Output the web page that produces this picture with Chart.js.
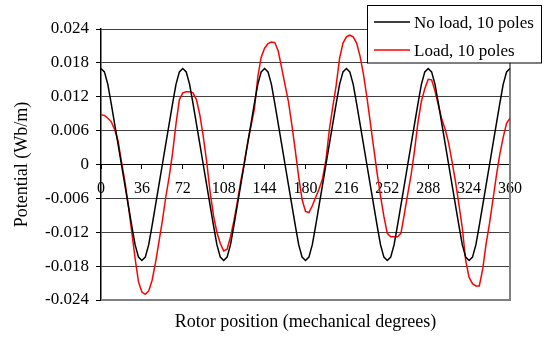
<!DOCTYPE html>
<html>
<head>
<meta charset="utf-8">
<title>Rotor potential</title>
<script src="https://cdn.jsdelivr.net/npm/chart.js@4.4.1/dist/chart.umd.min.js"></script>
<style>
    html, body { margin: 0; padding: 0; background: #fff; }
    #wrap { width: 547px; height: 338px; }
</style>
</head>
<body>
<div id="wrap"><canvas id="potentialChart" width="547" height="338"></canvas></div>
<script>
// Rotor position samples (mechanical degrees)
const angles = [
    0, 3, 6, 9, 12, 15, 18, 21, 24, 27, 30, 33, 36, 39, 42, 45, 48, 51, 54, 57, 60, 63, 66, 69,
    72, 75, 78, 81, 84, 87, 90, 93, 96, 99, 102, 105, 108, 111, 114, 117, 120, 123, 126, 129, 132, 135, 138, 141,
    144, 147, 150, 153, 156, 159, 162, 165, 168, 171, 174, 177, 180, 183, 186, 189, 192, 195, 198, 201, 204, 207, 210, 213,
    216, 219, 222, 225, 228, 231, 234, 237, 240, 243, 246, 249, 252, 255, 258, 261, 264, 267, 270, 273, 276, 279, 282, 285,
    288, 291, 294, 297, 300, 303, 306, 309, 312, 315, 318, 321, 324, 327, 330, 333, 336, 339, 342, 345, 348, 351, 354, 357,
    360
];

// No load, 10 poles (Wb/m)
const noLoad = [
    0.0170, 0.0164, 0.0142, 0.0108, 0.0072, 0.0036, 0.0000, -0.0036, -0.0072, -0.0108, -0.0142, -0.0164,
    -0.0170, -0.0164, -0.0142, -0.0108, -0.0072, -0.0036, 0.0000, 0.0036, 0.0072, 0.0108, 0.0142, 0.0164,
    0.0170, 0.0164, 0.0142, 0.0108, 0.0072, 0.0036, 0.0000, -0.0036, -0.0072, -0.0108, -0.0142, -0.0164,
    -0.0170, -0.0164, -0.0142, -0.0108, -0.0072, -0.0036, 0.0000, 0.0036, 0.0072, 0.0108, 0.0142, 0.0164,
    0.0170, 0.0164, 0.0142, 0.0108, 0.0072, 0.0036, 0.0000, -0.0036, -0.0072, -0.0108, -0.0142, -0.0164,
    -0.0170, -0.0164, -0.0142, -0.0108, -0.0072, -0.0036, 0.0000, 0.0036, 0.0072, 0.0108, 0.0142, 0.0164,
    0.0170, 0.0164, 0.0142, 0.0108, 0.0072, 0.0036, 0.0000, -0.0036, -0.0072, -0.0108, -0.0142, -0.0164,
    -0.0170, -0.0164, -0.0142, -0.0108, -0.0072, -0.0036, 0.0000, 0.0036, 0.0072, 0.0108, 0.0142, 0.0164,
    0.0170, 0.0164, 0.0142, 0.0108, 0.0072, 0.0036, 0.0000, -0.0036, -0.0072, -0.0108, -0.0142, -0.0164,
    -0.0170, -0.0164, -0.0142, -0.0108, -0.0072, -0.0036, 0.0000, 0.0036, 0.0072, 0.0108, 0.0142, 0.0164,
    0.0170
];

// Load, 10 poles (Wb/m)
const withLoad = [
    0.0088, 0.0087, 0.0082, 0.0076, 0.0062, 0.0042, 0.0005, -0.0030, -0.0072, -0.0118, -0.0166, -0.0208,
    -0.0226, -0.0230, -0.0224, -0.0205, -0.0174, -0.0137, -0.0100, -0.0058, -0.0022, 0.0020, 0.0072, 0.0115,
    0.0127, 0.0129, 0.0129, 0.0127, 0.0115, 0.0088, 0.0050, 0.0005, -0.0048, -0.0090, -0.0120, -0.0140,
    -0.0153, -0.0150, -0.0128, -0.0100, -0.0066, -0.0030, 0.0002, 0.0038, 0.0068, 0.0098, 0.0155, 0.0190,
    0.0206, 0.0214, 0.0217, 0.0216, 0.0201, 0.0171, 0.0141, 0.0111, 0.0070, 0.0025, -0.0022, -0.0062,
    -0.0083, -0.0085, -0.0073, -0.0058, -0.0043, -0.0025, 0.0008, 0.0062, 0.0102, 0.0140, 0.0188, 0.0215,
    0.0226, 0.0229, 0.0226, 0.0215, 0.0192, 0.0160, 0.0120, 0.0075, 0.0030, -0.0015, -0.0055, -0.0092,
    -0.0122, -0.0128, -0.0128, -0.0128, -0.0122, -0.0088, -0.0052, -0.0018, 0.0025, 0.0075, 0.0112, 0.0134,
    0.0151, 0.0150, 0.0130, 0.0105, 0.0080, 0.0062, 0.0038, 0.0005, -0.0030, -0.0070, -0.0112, -0.0170,
    -0.0200, -0.0211, -0.0215, -0.0215, -0.0185, -0.0140, -0.0104, -0.0062, -0.0020, 0.0018, 0.0048, 0.0073,
    0.0082
];

const seriesLabels = ['No load, 10 poles', 'Load, 10 poles'];
const seriesColors = ['#000000', '#ff0000'];

const serif = 'Liberation Serif, "Times New Roman", serif';

/**
 * Gray frame on the right and bottom of the plot area
 */
const plotFrame = {
    id: 'plotFrame',
    beforeDatasetsDraw(chart) {
        const { ctx, chartArea: a } = chart;
        ctx.save();
        ctx.strokeStyle = '#808080';
        ctx.lineWidth = 2;
        ctx.beginPath();
        ctx.moveTo(a.left, a.bottom);
        ctx.lineTo(a.right, a.bottom);
        ctx.lineTo(a.right, a.top);
        ctx.stroke();
        ctx.restore();
    }
};

/**
 * Boxed legend at the top right, partly outside the plot area
 */
const boxLegend = {
    id: 'boxLegend',
    afterDraw(chart) {
        const ctx = chart.ctx;
        const box = { x: 367.5, y: 5.5, w: 174, h: 57.5 };
        ctx.save();
        ctx.fillStyle = '#fff';
        ctx.fillRect(box.x, box.y, box.w, box.h);
        ctx.strokeStyle = '#000';
        ctx.lineWidth = 1;
        ctx.strokeRect(box.x, box.y, box.w, box.h);

        ctx.font = '17px ' + serif;
        ctx.textBaseline = 'alphabetic';
        ctx.textAlign = 'left';
        chart.data.datasets.forEach((ds, i) => {
            const lineY = 22 + i * 28;
            ctx.strokeStyle = ds.borderColor;
            ctx.lineWidth = 1.5;
            ctx.beginPath();
            ctx.moveTo(374, lineY);
            ctx.lineTo(410, lineY);
            ctx.stroke();
            ctx.fillStyle = '#000';
            ctx.fillText(ds.label, 414, lineY + 5.5);
        });
        ctx.restore();
    }
};

function toPoints(values) {
    return values.map((v, i) => ({ x: angles[i], y: v }));
}

const ctx = document.getElementById('potentialChart').getContext('2d');

new Chart(ctx, {
    type: 'line',
    data: {
        datasets: [
            {
                label: seriesLabels[0],
                data: toPoints(noLoad),
                borderColor: seriesColors[0],
                borderWidth: 1.5,
                pointRadius: 0,
                tension: 0
            },
            {
                label: seriesLabels[1],
                data: toPoints(withLoad),
                borderColor: seriesColors[1],
                borderWidth: 1.5,
                pointRadius: 0,
                tension: 0
            }
        ]
    },
    options: {
        responsive: false,
        animation: false,
        devicePixelRatio: 1,
        layout: {
            padding: { top: 29, right: 37, bottom: 0, left: 0 }
        },
        plugins: {
            legend: { display: false },
            tooltip: { enabled: false }
        },
        scales: {
            x: {
                type: 'linear',
                min: 0,
                max: 360,
                position: { y: 0 },
                ticks: {
                    stepSize: 36,
                    autoSkip: false,
                    maxRotation: 0,
                    color: '#000',
                    padding: 11,
                    font: { family: serif, size: 16 }
                },
                grid: {
                    drawOnChartArea: false,
                    drawTicks: true,
                    tickLength: 4,
                    tickColor: '#000'
                },
                border: { color: '#000', width: 1 }
            },
            xTitle: {
                type: 'linear',
                position: 'bottom',
                ticks: { display: false },
                grid: { display: false },
                border: { display: false },
                afterFit(scale) { scale.height = 38; },
                title: {
                    display: true,
                    text: 'Rotor position (mechanical degrees)',
                    color: '#000',
                    font: { family: serif, size: 18 },
                    padding: { top: 0, bottom: 5 }
                }
            },
            y: {
                min: -0.024,
                max: 0.024,
                afterFit(scale) { scale.width = 101; },
                ticks: {
                    stepSize: 0.006,
                    color: '#000',
                    padding: 7,
                    font: { family: serif, size: 17 },
                    callback: v => Math.abs(v) < 1e-9 ? '0' : v.toFixed(3)
                },
                grid: {
                    color: '#404040',
                    lineWidth: 1,
                    tickLength: 5,
                    tickColor: '#000'
                },
                border: { color: '#000', width: 1.5 },
                title: {
                    display: true,
                    text: 'Potential (Wb/m)',
                    color: '#000',
                    font: { family: serif, size: 18 },
                    padding: { top: 11, bottom: 0 }
                }
            }
        }
    },
    plugins: [plotFrame, boxLegend]
});
</script>
</body>
</html>
